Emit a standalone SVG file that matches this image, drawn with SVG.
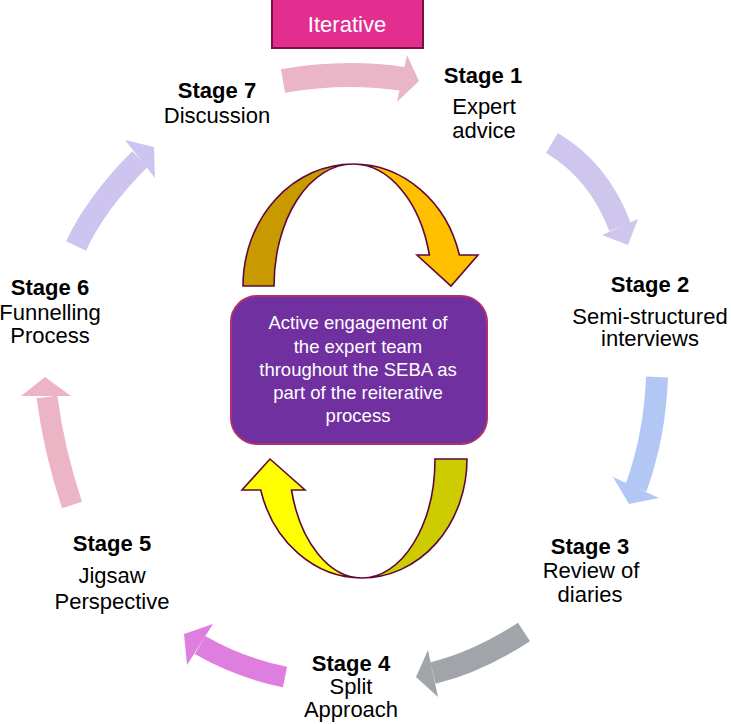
<svg xmlns="http://www.w3.org/2000/svg" width="731" height="724" viewBox="0 0 731 724">
<style>
.lbl{font-family:"Liberation Sans",Arial,sans-serif;font-size:22px;fill:#000;text-anchor:middle}
.b{font-weight:bold}
.ctr{font-family:"Liberation Sans",Arial,sans-serif;font-size:18.5px;fill:#fff;text-anchor:middle}
.rib{stroke:#5c0a3c;stroke-width:1.6;stroke-linejoin:miter}
.sh{fill:none;stroke-linecap:butt}
</style>
<rect width="731" height="724" fill="#fff"/>
<g id="connectors">
  <g id="a71" fill="#ebb5c8">
    <path class="sh" d="M283,81 Q345,70 404,79" stroke="#ebb5c8" stroke-width="24"/>
    <polygon points="407,55 419,81 397,102"/>
  </g>
  <g id="a12" fill="#cfc6ee">
    <path class="sh" d="M552,143 Q599,171 620,227" stroke="#cfc6ee" stroke-width="23"/>
    <polygon points="602,235 638,219 628,245"/>
  </g>
  <g id="a23" fill="#b3c7f5">
    <path class="sh" d="M657,377 Q655,435 636,488" stroke="#b3c7f5" stroke-width="22"/>
    <polygon points="613,477 659,498 629,504"/>
  </g>
  <g id="a34" fill="#a1a5aa">
    <path class="sh" d="M524,632 Q478,662 433,673" stroke="#a1a5aa" stroke-width="22"/>
    <polygon points="428,650 438,697 416,677"/>
  </g>
  <g id="a45" fill="#de7fe0">
    <path class="sh" d="M285,677 Q240,668 200,645" stroke="#de7fe0" stroke-width="21"/>
    <polygon points="213,624 187,665 184,634"/>
  </g>
  <g id="a56" fill="#ecb5c5">
    <path class="sh" d="M72,505 Q54,451 47,397" stroke="#ecb5c5" stroke-width="21"/>
    <polygon points="21,396 71,396 45,377"/>
  </g>
  <g id="a67" fill="#cdc5ef">
    <path class="sh" d="M76,246 Q96,203 140,159" stroke="#cdc5ef" stroke-width="22"/>
    <polygon points="125,140 155,178 154,147"/>
  </g>
  <g id="loop-top">
    <path class="rib" fill="#c89a00" d="M243,286 A110,122 0 0,1 353,164 A79,122 0 0,0 274,286 Z"/>
    <path class="rib" fill="#ffc000" d="M353,164 A110,122 0 0,1 459.4,255 L478,255 L451,286 L417,255 L429.4,255 A79,122 0 0,0 353,164 Z"/>
  </g>
  <g id="loop-bottom">
    <path class="rib" fill="#cccc00" d="M435,459 L467,459 A105,119 0 0,1 362,578 A73,119 0 0,0 435,459 Z"/>
    <path class="rib" fill="#ffff00" d="M362,578 A105,119 0 0,1 260.7,490 L242,490 L270,459 L305,490 L291.5,490 A73,119 0 0,0 362,578 Z"/>
  </g>
</g>
<g id="iterative">
  <rect x="272" y="-2" width="151" height="50" fill="#e22f8f" stroke="#7a1040" stroke-width="2"/>
  <text class="lbl" x="347" y="32" style="fill:#fff">Iterative</text>
</g>
<g id="center">
  <rect x="231" y="296" width="256" height="148" rx="26" fill="#7030a0" stroke="#b02f6e" stroke-width="2"/>
  <text class="ctr" x="358" y="329">Active engagement of</text>
  <text class="ctr" x="358" y="353">the expert team</text>
  <text class="ctr" x="358" y="376">throughout the SEBA as</text>
  <text class="ctr" x="358" y="399">part of the reiterative</text>
  <text class="ctr" x="358" y="422">process</text>
</g>
<g id="stage1">
  <text class="lbl b" x="483" y="83">Stage 1</text>
  <text class="lbl" x="484" y="114">Expert</text>
  <text class="lbl" x="484" y="138">advice</text>
</g>
<g id="stage2">
  <text class="lbl b" x="650" y="292">Stage 2</text>
  <text class="lbl" x="650" y="324">Semi-structured</text>
  <text class="lbl" x="650" y="346">interviews</text>
</g>
<g id="stage3">
  <text class="lbl b" x="590" y="554">Stage 3</text>
  <text class="lbl" x="591" y="578">Review of</text>
  <text class="lbl" x="590" y="602">diaries</text>
</g>
<g id="stage4">
  <text class="lbl b" x="351" y="671">Stage 4</text>
  <text class="lbl" x="351" y="694">Split</text>
  <text class="lbl" x="351" y="717">Approach</text>
</g>
<g id="stage5">
  <text class="lbl b" x="112" y="551">Stage 5</text>
  <text class="lbl" x="112" y="583">Jigsaw</text>
  <text class="lbl" x="112" y="609">Perspective</text>
</g>
<g id="stage6">
  <text class="lbl b" x="50" y="295">Stage 6</text>
  <text class="lbl" x="50" y="320">Funnelling</text>
  <text class="lbl" x="50" y="343">Process</text>
</g>
<g id="stage7">
  <text class="lbl b" x="217" y="98">Stage 7</text>
  <text class="lbl" x="217" y="123">Discussion</text>
</g>
</svg>
